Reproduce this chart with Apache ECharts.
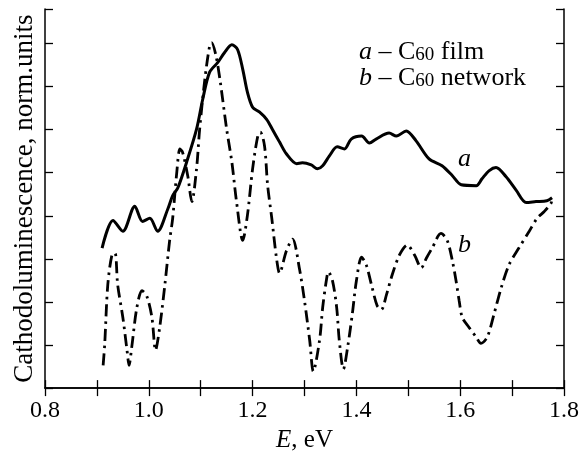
<!DOCTYPE html>
<html>
<head>
<meta charset="utf-8">
<script src="https://cdn.jsdelivr.net/npm/echarts@6/dist/echarts.min.js"></script>
<style>
  html, body { margin: 0; padding: 0; background: #fff; }
  #main { width: 585px; height: 458px; }
</style>
</head>
<body>
<div id="main"></div>
<script>
// curve a - C60 film (solid)
var filmE = [0.910, 0.931, 0.950, 0.973, 0.988, 1.002, 1.017, 1.037, 1.046, 1.056, 1.073, 1.092, 1.104, 1.117, 1.133, 1.146, 1.160, 1.171, 1.181, 1.190, 1.200, 1.213, 1.227, 1.238, 1.252, 1.265, 1.285, 1.296, 1.313, 1.325, 1.335, 1.348, 1.363, 1.377, 1.390, 1.410, 1.425, 1.438, 1.463, 1.477, 1.496, 1.515, 1.540, 1.565, 1.585, 1.602, 1.631, 1.642, 1.656, 1.669, 1.688, 1.708, 1.727, 1.746, 1.767, 1.777];
var filmI = [3.25, 3.89, 3.64, 4.22, 3.87, 3.94, 3.64, 4.17, 4.47, 4.65, 5.25, 6.01, 6.71, 7.33, 7.56, 7.79, 7.97, 7.86, 7.40, 6.87, 6.52, 6.41, 6.24, 6.01, 5.71, 5.44, 5.21, 5.23, 5.18, 5.09, 5.16, 5.39, 5.60, 5.55, 5.78, 5.85, 5.69, 5.78, 5.92, 5.85, 5.97, 5.74, 5.32, 5.16, 4.93, 4.72, 4.70, 4.86, 5.05, 5.12, 4.91, 4.59, 4.31, 4.33, 4.35, 4.42];

// curve b - C60 network (dash-dot)
var netE = [0.912, 0.915, 0.921, 0.929, 0.935, 0.940, 0.950, 0.958, 0.962, 0.967, 0.977, 0.987, 0.996, 1.006, 1.013, 1.021, 1.031, 1.040, 1.046, 1.054, 1.060, 1.065, 1.075, 1.083, 1.092, 1.098, 1.108, 1.117, 1.121, 1.129, 1.137, 1.150, 1.160, 1.169, 1.181, 1.190, 1.200, 1.210, 1.215, 1.223, 1.229, 1.237, 1.246, 1.252, 1.265, 1.277, 1.290, 1.300, 1.310, 1.317, 1.329, 1.335, 1.342, 1.346, 1.354, 1.362, 1.367, 1.375, 1.383, 1.392, 1.400, 1.410, 1.419, 1.429, 1.440, 1.448, 1.458, 1.469, 1.483, 1.498, 1.512, 1.525, 1.535, 1.546, 1.563, 1.575, 1.585, 1.592, 1.598, 1.604, 1.617, 1.631, 1.640, 1.652, 1.665, 1.679, 1.694, 1.713, 1.733, 1.748, 1.762, 1.775, 1.777];
var netI = [0.53, 1.01, 2.40, 3.09, 3.13, 2.40, 1.64, 0.88, 0.53, 0.94, 1.87, 2.26, 2.14, 1.64, 0.88, 1.41, 2.40, 3.41, 3.94, 5.02, 5.55, 5.48, 4.93, 4.33, 5.09, 6.01, 7.17, 7.93, 8.02, 7.74, 7.17, 6.01, 5.25, 4.33, 3.43, 4.01, 5.09, 5.85, 5.94, 5.62, 4.70, 3.94, 3.02, 2.67, 3.18, 3.46, 2.79, 2.03, 1.11, 0.39, 1.11, 1.87, 2.49, 2.70, 2.49, 1.87, 1.11, 0.44, 0.94, 1.71, 2.49, 3.04, 2.86, 2.40, 1.91, 1.82, 2.17, 2.63, 3.09, 3.32, 3.09, 2.79, 3.02, 3.25, 3.59, 3.43, 2.95, 2.49, 2.03, 1.64, 1.41, 1.18, 1.04, 1.18, 1.71, 2.33, 2.86, 3.25, 3.64, 3.94, 4.10, 4.29, 4.40];

var xMin = 0.8, xMax = 1.8, xStep = 0.1;
var yMin = 0, yMax = 8.8, yStep = 1;

var serif = '"Liberation Serif", "DejaVu Serif", serif';

function pairs(xs, ys) {
  return xs.map(function (x, i) { return [x, ys[i]]; });
}

var chart = echarts.init(document.getElementById('main'), null, { renderer: 'canvas' });

var frameLine = { show: true, lineStyle: { color: '#000', width: 1.5 } };
var inTick = { show: true, inside: true, length: 8, lineStyle: { color: '#000', width: 1.3 } };

var option = {
  animation: false,
  backgroundColor: '#fff',
  grid: { left: 45, right: 21, top: 9, bottom: 66, containLabel: false },
  xAxis: [{
    type: 'value',
    min: xMin, max: xMax, interval: xStep,
    name: '{i|E}, eV',
    nameLocation: 'middle',
    nameGap: 37,
    nameTextStyle: {
      fontFamily: serif, fontSize: 25, color: '#000',
      rich: { i: { fontFamily: serif, fontSize: 25, fontStyle: 'italic', color: '#000' } }
    },
    axisLine: frameLine,
    axisTick: inTick,
    splitLine: { show: false },
    axisLabel: {
      margin: 11,
      fontFamily: serif, fontSize: 24, color: '#000',
      formatter: function (v) {
        return Math.round(v * 10) % 2 === 0 ? v.toFixed(1) : '';
      }
    }
  }, {
    type: 'value', position: 'top',
    min: xMin, max: xMax, interval: xStep,
    axisLine: frameLine,
    axisTick: inTick,
    splitLine: { show: false },
    axisLabel: { show: false }
  }],
  yAxis: [{
    type: 'value',
    min: yMin, max: yMax, interval: yStep,
    name: 'Cathodoluminescence, norm.units',
    nameLocation: 'middle',
    nameRotate: 90,
    nameGap: 7,
    nameTextStyle: { fontFamily: serif, fontSize: 27, color: '#000' },
    axisLine: frameLine,
    axisTick: inTick,
    splitLine: { show: false },
    axisLabel: { show: false }
  }, {
    type: 'value', position: 'right',
    min: yMin, max: yMax, interval: yStep,
    axisLine: frameLine,
    axisTick: inTick,
    splitLine: { show: false },
    axisLabel: { show: false }
  }],
  graphic: [{
    type: 'text',
    left: 359, top: 39,
    style: {
      text: '{i|a} – C{s|60} film\n{i|b} – C{s|60} network',
      fontFamily: serif, fontSize: 26, fill: '#000',
      lineHeight: 26,
      rich: {
        i: { fontFamily: serif, fontSize: 26, fontStyle: 'italic', lineHeight: 26 },
        s: { fontFamily: serif, fontSize: 19, lineHeight: 14, verticalAlign: 'bottom' }
      }
    }
  }, {
    type: 'text',
    left: 458, top: 146,
    style: { text: 'a', fontFamily: serif, fontSize: 26, fontStyle: 'italic', fill: '#000' }
  }, {
    type: 'text',
    left: 458, top: 232,
    style: { text: 'b', fontFamily: serif, fontSize: 26, fontStyle: 'italic', fill: '#000' }
  }],
  series: [{
    name: 'a',
    type: 'line',
    data: pairs(filmE, filmI),
    symbol: 'none',
    smooth: 0.3,
    lineStyle: { color: '#000', width: 3 }
  }, {
    name: 'b',
    type: 'line',
    data: pairs(netE, netI),
    symbol: 'none',
    smooth: 0.3,
    lineStyle: { color: '#000', width: 2.8, type: [12, 5, 2.5, 5] }
  }]
};

chart.setOption(option);
</script>
</body>
</html>
